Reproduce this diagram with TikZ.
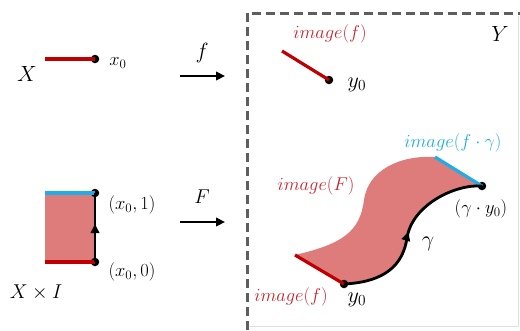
\RequirePackage{fix-cm}
\documentclass[tikz,border=0pt]{standalone}
\usetikzlibrary{arrows.meta,decorations.markings,calc}
\definecolor{myred}{HTML}{C00000}
\definecolor{txtred}{HTML}{C8232C}
\definecolor{myfill}{HTML}{DE7B7B}
\definecolor{myblue}{HTML}{1EADE6}
\definecolor{boxgray}{HTML}{5E5E5E}
\tikzset{
  dot/.style={circle,fill=black,inner sep=0pt,minimum size=8.5pt},
  redseg/.style={myred,line width=3.2pt},
  blueseg/.style={myblue,line width=3.2pt},
  blackpath/.style={black,line width=2.8pt},
  maparrow/.style={line width=2.8pt,-{Triangle[length=9pt,width=8.5pt]}},
  midarrow/.style={postaction={decorate},decoration={markings,mark=at position #1 with {\arrow{Triangle[length=9pt,width=8.5pt]}}}},
  big/.style={font=\fontsize{22}{26}\selectfont,inner sep=0pt},
  mid/.style={font=\fontsize{18.5}{22}\selectfont,inner sep=0pt},
  redlab/.style={font=\fontsize{18.5}{22}\selectfont,inner sep=0pt,text=txtred},
  bluelab/.style={font=\fontsize{18.5}{22}\selectfont,inner sep=0pt,text=myblue},
}
\begin{document}
\begin{tikzpicture}[x=1pt,y=-1pt]
\useasboundingbox (0,0) rectangle (520,330);
% dashed frame
\coordinate (bl) at (247,330);
\coordinate (tl) at (247,13);
\coordinate (tr) at (520,13);
\draw[boxgray,line width=3pt,dash pattern=on 9pt off 5pt] (bl) -- (tl) -- (tr);
\coordinate (rt) at (518,16);
\coordinate (rb) at (518,326);
\coordinate (lb) at (250,326);
\draw[gray!25,line width=0.8pt] (rt) -- (rb) -- (lb);

% top left: X
\node[big] (X) at (27,74) {$X$};
\coordinate (xa) at (45,59);
\node[dot] (x0) at (95,59) {};
\draw[redseg] (xa) -- (x0.center);
\node[mid] (x0lab) at (118,63) {$x_0$};
\coordinate (fa) at (180,76);
\coordinate (fb) at (225,76);
\draw[maparrow] (fa) -- (fb);
\node[big] (flab) at (202,53) {$f$};

% bottom left: X x I
\fill[myfill] (45,193) rectangle (95,262);
\coordinate (ra) at (45,262);
\coordinate (ta) at (45,193);
\node[dot] (p0) at (95,262) {};
\node[dot] (p1) at (95,193) {};
\draw[redseg] (ra) -- (p0.center);
\draw[blueseg] (ta) -- (p1.center);
\draw[blackpath,midarrow=0.55] (p0.center) -- (p1.center);
\node[mid] (p1lab) at (132,205) {$(x_0,1)$};
\node[mid] (p0lab) at (132,272) {$(x_0,0)$};
\node[mid,font=\fontsize{20}{24}\selectfont] (XI) at (36,292) {$X\times I$};
\coordinate (Fa) at (180,222);
\coordinate (Fb) at (225,222);
\draw[maparrow] (Fa) -- (Fb);
\node[mid,font=\fontsize{20}{24}\selectfont] (Flab) at (202,197) {$F$};

% top right
\node[big] (Y) at (500,34) {$Y$};
\node[redlab] (imf1) at (330,34) {$image(f)$};
\coordinate (ya) at (282,51);
\node[dot] (y0t) at (329,80) {};
\draw[redseg] (ya) -- (y0t.center);
\node[big] (y0tlab) at (357,85) {$y_0$};

% bottom right: image(F)
\coordinate (A) at (295,255);
\coordinate (B) at (344,284);
\coordinate (C) at (482,186);
\coordinate (D) at (435,157);
\fill[myfill] (A) -- (B)
  .. controls (385,282) and (403,265) .. (407,238)
  .. controls (412,205) and (455,184) .. (C)
  -- (D)
  .. controls (400,155) and (368,170) .. (364,200)
  .. controls (360,232) and (342,244) .. (A) -- cycle;
\node[dot] (y0b) at (B) {};
\node[dot] (gy0) at (C) {};
\draw[redseg] (A) -- (y0b.center);
\draw[blueseg] (D) -- (gy0.center);
\draw[blackpath,midarrow=0.5] (y0b.center)
  .. controls (385,282) and (403,265) .. (407,238)
  .. controls (412,205) and (455,184) .. (gy0.center);
\node[redlab] (imF) at (316,186) {$image(F)$};
\node[bluelab] (imfg) at (453,143) {$image(f\cdot\gamma)$};
\node[mid] (gy0lab) at (481,209) {$(\gamma\cdot y_0)$};
\node[big] (glab) at (428,244) {$\gamma$};
\node[redlab] (imf2) at (291,297) {$image(f)$};
\node[big] (y0blab) at (357,300) {$y_0$};
\end{tikzpicture}
\end{document}
